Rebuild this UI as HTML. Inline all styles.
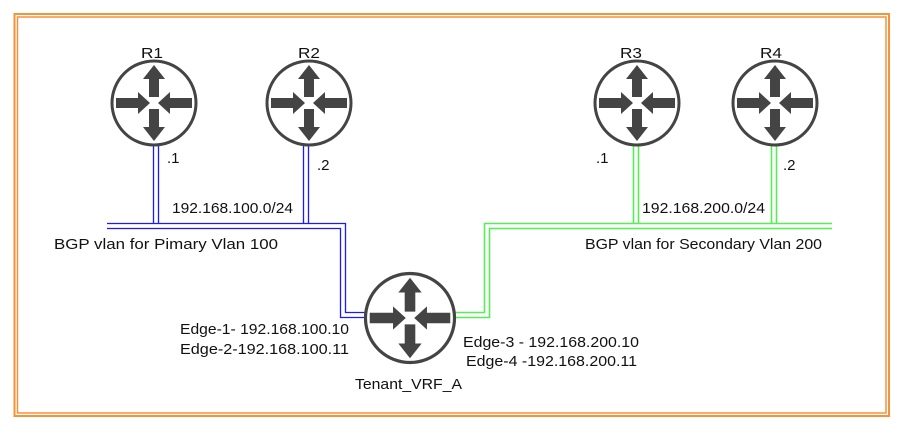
<!DOCTYPE html>
<html><head><meta charset="utf-8"><style>
html,body{margin:0;padding:0;background:#fff;}
svg{display:block;font-family:"Liberation Sans",sans-serif;}
</style></head><body>
<svg width="904" height="430" viewBox="0 0 904 430" xmlns="http://www.w3.org/2000/svg">
<defs>
<g id="rt">
<circle cx="0" cy="0" r="42" fill="#fff" stroke="#444" stroke-width="3"/>
<g fill="#444">
<path d="M0,-38 L-11,-24 L-5,-24 L-5,-6 L5,-6 L5,-24 L11,-24 Z"/>
<path d="M0,38 L-11,24 L-5,24 L-5,6 L5,6 L5,24 L11,24 Z"/>
<path d="M-4,0 L-16,-11 L-16,-5 L-38,-5 L-38,5 L-16,5 L-16,11 Z"/>
<path d="M4,0 L16,-11 L16,-5 L38,-5 L38,5 L16,5 L16,11 Z"/>
</g>
</g>
</defs>
<rect x="14.5" y="14" width="874.5" height="402" fill="none" stroke="#f7923a" stroke-width="2"/>
<rect x="17.5" y="17" width="868.5" height="396" fill="none" stroke="#f7923a" stroke-width="1.5"/>

<g fill="none" stroke="#1a1aff" stroke-width="1.3">
<line x1="153.5" y1="145" x2="153.5" y2="224"/><line x1="158.5" y1="145" x2="158.5" y2="224"/>
<line x1="303.5" y1="145" x2="303.5" y2="224"/><line x1="308.5" y1="145" x2="308.5" y2="224"/>
<polyline points="107,223.5 345.5,223.5 345.5,312.5 367,312.5"/>
<polyline points="107,228.5 340.5,228.5 340.5,317.5 367,317.5"/>
</g>
<g fill="none" stroke="#55ee55" stroke-width="1.6">
<line x1="633.5" y1="145" x2="633.5" y2="224"/><line x1="638.5" y1="145" x2="638.5" y2="224"/>
<line x1="771.5" y1="145" x2="771.5" y2="224"/><line x1="776.5" y1="145" x2="776.5" y2="224"/>
<polyline points="832,223.5 484.5,223.5 484.5,312.5 455,312.5"/>
<polyline points="832,228.5 489.5,228.5 489.5,317.5 455,317.5"/>
</g>

<use href="#rt" x="154" y="103"/>
<use href="#rt" x="309" y="103"/>
<use href="#rt" x="637" y="103"/>
<use href="#rt" x="775" y="103"/>
<use href="#rt" x="410" y="318" transform="translate(410,318) scale(1.06) translate(-410,-318)"/>

<g font-size="15" fill="#111" lengthAdjust="spacingAndGlyphs">
<text x="141" y="58" textLength="22" lengthAdjust="spacingAndGlyphs">R1</text>
<text x="298" y="58" textLength="22" lengthAdjust="spacingAndGlyphs">R2</text>
<text x="620" y="58" textLength="22" lengthAdjust="spacingAndGlyphs">R3</text>
<text x="760" y="58" textLength="22" lengthAdjust="spacingAndGlyphs">R4</text>
<text x="167" y="163">.1</text>
<text x="317" y="170">.2</text>
<text x="596" y="163">.1</text>
<text x="783" y="170">.2</text>
<text x="172" y="213" textLength="121" lengthAdjust="spacingAndGlyphs">192.168.100.0/24</text>
<text x="642" y="213" textLength="123" lengthAdjust="spacingAndGlyphs">192.168.200.0/24</text>
<text x="54" y="249" textLength="224" lengthAdjust="spacingAndGlyphs">BGP vlan for Pimary Vlan 100</text>
<text x="585" y="249" textLength="237" lengthAdjust="spacingAndGlyphs">BGP vlan for Secondary Vlan 200</text>
<text x="180" y="334" textLength="169" lengthAdjust="spacingAndGlyphs">Edge-1- 192.168.100.10</text>
<text x="180" y="354" textLength="169" lengthAdjust="spacingAndGlyphs">Edge-2-192.168.100.11</text>
<text x="463" y="347" textLength="176" lengthAdjust="spacingAndGlyphs">Edge-3 - 192.168.200.10</text>
<text x="466" y="366" textLength="171" lengthAdjust="spacingAndGlyphs">Edge-4 -192.168.200.11</text>
<text x="355" y="389" textLength="107" lengthAdjust="spacingAndGlyphs">Tenant_VRF_A</text>
</g>
</svg>
</body></html>
